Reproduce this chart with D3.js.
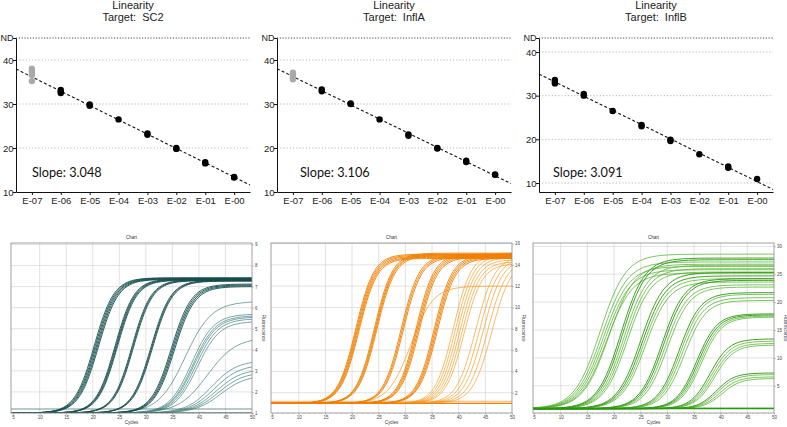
<!DOCTYPE html>
<html>
<head>
<meta charset="utf-8">
<script src="https://cdn.jsdelivr.net/npm/d3@7"></script>
<style>
body{margin:0;background:#fff;}
svg{display:block;font-family:"Liberation Sans",Arial,sans-serif;}
</style>
</head>
<body>
<svg id="chart" width="787" height="427"></svg>
<script>
// ---------- linearity plots (top row) ----------
var dilutions = ["E-07","E-06","E-05","E-04","E-03","E-02","E-01","E-00"];
var targets = ["SC2","InflA","InflB"];
var slopes = ["3.048","3.106","3.091"];
var yTicks = [10,20,30,40];

// Ct replicates per dilution
var ctSC2   = [[38.0,37.4,36.6,35.2],[33.2,32.8,32.5],[29.9,29.6],[26.5],[23.3,23.0],[20.0,19.8],[16.8,16.5],[13.4,13.3]];
var ctInflA = [[37.1,36.7,36.2,35.6],[33.3,32.9],[30.1,30.0],[26.5],[23.1,22.8],[20.0,19.9],[17.1,16.8],[14.0,13.9]];
var ctInflB = [[33.6,33.2,32.8],[30.4,30.0],[26.5],[23.3,23.0],[19.9,19.6],[16.6],[13.8,13.5],[10.9]];
var ctData = [ctSC2, ctInflA, ctInflB];
// dilutions left out of the fit (grey)
var excluded = [[0],[0],[]];
// axis range: bottom value and the "ND" value at the top
var yBottom = [10,10,7.94];
var yND = [45,45,43.2];

// ---------- amplification plots (bottom row) ----------
var tealCt      = [20.3,20.5,20.7,20.9,21.1, 24.2,24.35,24.5,24.65, 27.4,27.55,27.7, 31.0,31.15,31.3, 34.8,35.0,35.2,35.4, 37.4,38.6,38.9,39.1,39.4,39.7,41.6, 42.4,42.9,43.3,43.7,44.1];
var tealPlateau = [7.42,7.4,7.38,7.36,7.34, 7.36,7.34,7.32,7.3, 7.32,7.3,7.28, 7.3,7.28,7.26, 7.12,7.08,7.04,7.0, 6.3,5.7,5.62,5.56,5.48,5.35,4.6, 3.5,3.3,3.1,2.95,2.8];
var tealSteep   = [1.85,1.85,1.85,1.85,1.85, 1.8,1.8,1.8,1.8, 1.8,1.8,1.8, 1.85,1.85,1.85, 1.9,1.9,1.9,1.9, 2.5,2.1,2.1,2.1,2.1,2.1,2.7, 2.4,2.4,2.4,2.4,2.4];
var tealFaint   = [0,0,0,0,0, 0,0,0,0, 0,0,0, 0,0,0, 0,0,0,0, 1,1,1,1,1,1,1, 1,1,1,1,1];

var orangeCt      = [20.7,20.85,21.0,21.15,21.3, 24.2,24.35,24.5,24.65, 29.2,29.4,29.6, 31.0, 32.0,32.2,32.4,32.6, 35.4,35.6,35.8,36.0, 39.0,39.4,39.8,40.2,40.6,41.0, 43.2,43.9,44.6,45.4,46.2];
var orangePlateau = [15.0,14.9,14.8,14.7,14.6, 15.1,15.0,14.95,14.85, 14.9,14.8,14.7, 12.0, 15.0,14.9,14.8,14.7, 14.9,14.8,14.7,14.6, 15.1,14.9,14.7,14.5,14.3,14.1, 14.8,14.7,14.6,14.5,14.4];
var orangeSteep   = [1.7,1.7,1.7,1.7,1.7, 1.7,1.7,1.7,1.7, 1.7,1.7,1.7, 2.1, 1.7,1.7,1.7,1.7, 1.7,1.7,1.7,1.7, 1.7,1.7,1.7,1.7,1.7,1.7, 1.8,1.8,1.8,1.8,1.8];
var orangeFaint   = [0,0,0,0,0, 0,0,0,0, 0,0,0, 1, 0,0,0,0, 0,0,0,0, 1,1,1,1,1,1, 1,1,1,1,1];

var greenCt      = [17.4,17.7,18.0,18.3,18.6,19.0, 21.3,21.6,21.9,22.2,22.5, 25.0,25.3,25.6,25.9, 29.0,29.3,29.6,30.0, 32.2,32.5,32.8,33.2, 35.5,35.8,36.1,36.4, 38.0,38.3,38.6,38.9, 39.2,39.5,39.9,40.3];
var greenPlateau = [28.6,27.2,26.4,25.8,25.2,26.8, 27.9,27.6,26.6,26.0,25.4, 25.3,24.7,24.2,23.6, 24.2,23.9,23.1,22.7, 21.7,21.4,20.8,20.3, 17.9,17.7,17.5,17.3, 13.4,13.0,12.6,12.3, 7.3,7.0,6.6,6.3];
var greenSteep   = [2.4,2.4,2.4,2.4,2.4,2.4, 2.2,2.2,2.2,2.2,2.2, 2.2,2.2,2.2,2.2, 2.1,2.1,2.1,2.1, 2.0,2.0,2.0,2.0, 1.9,1.9,1.9,1.9, 1.8,1.8,1.8,1.8, 1.7,1.7,1.7,1.7];
var greenFaint   = [1,1,1,1,1,1, 0,0,1,1,1, 0,0,1,1, 0,0,1,1, 0,1,1,1, 0,0,1,1, 0,1,1,1, 0,1,1,1];

var ampCt = [tealCt, orangeCt, greenCt];
var ampPlateau = [tealPlateau, orangePlateau, greenPlateau];
var ampSteep = [tealSteep, orangeSteep, greenSteep];
var ampFaint = [tealFaint, orangeFaint, greenFaint];
var baselines = [1.0, 1.0, 0.9];
var thresholds = [1.19, 1.2, 1.05];
var ampYDomain = [[1,9.07],[0.1,16.05],[0.12,30.6]];
var ampYTicks = [d3.range(1,10), d3.range(2,17,2), d3.range(5,31,5)];
var cycleStart = [4.6, 4.8, 4.8];
var cycleTicks = [5,10,15,20,25,30,35,40,45,50];
var cycles = d3.range(1, 51);

var colors = [["#154d4c","#4d8a86"],["#f07f00","#f5a433"],["#2c9610","#52b22c"]];

var svg = d3.select("#chart");

// ---------- top row ----------
var topLeft = [16, 277, 539];
var topW = 234;
var slopeDx = [16, 23, 14];

targets.forEach(function(t, i){
    var ox = topLeft[i];
    var x = d3.scaleLinear().domain([-0.55, 7.55]).range([ox, ox + topW]);
    var y = d3.scaleLinear().domain([yBottom[i], yND[i]]).range([192, 38]);
    var g = svg.append("g");

    //titles
    g.append("text").attr("x", ox + 117).attr("y", 9).attr("text-anchor","middle")
        .attr("font-size", 11).attr("fill","#222").text("Linearity");
    g.append("text").attr("x", ox + 117).attr("y", 21).attr("text-anchor","middle")
        .attr("font-size", 11).attr("fill","#222").style("white-space","pre")
        .text("Target:  " + t);

    //dotted grid
    g.selectAll(".grid").data(yTicks.filter(v => v > yBottom[i] + 0.5)).enter()
        .append("line")
        .attr("x1", ox).attr("x2", ox + topW)
        .attr("y1", d => y(d)).attr("y2", d => y(d))
        .attr("stroke", "#a8a8a8").attr("stroke-width", 0.8).attr("stroke-dasharray", "1.2,2");
    g.append("line")
        .attr("x1", ox).attr("x2", ox + topW)
        .attr("y1", y(yND[i])).attr("y2", y(yND[i]))
        .attr("stroke", "#333").attr("stroke-width", 0.9).attr("stroke-dasharray", "1.2,1.6");

    //axes
    var yAxis = d3.axisLeft(y).tickValues(yTicks.concat([yND[i]]))
        .tickFormat(v => v === yND[i] ? "ND" : v).tickSize(3).tickSizeOuter(0);
    var ya = g.append("g").attr("transform", "translate(" + ox + ",0)").call(yAxis);
    var xAxis = d3.axisBottom(x).tickValues(d3.range(dilutions.length))
        .tickFormat(k => dilutions[k]).tickSize(3).tickSizeOuter(0);
    var xa = g.append("g").attr("transform", "translate(0,192)").call(xAxis);
    [ya, xa].forEach(function(a){
        a.selectAll("path,line").attr("stroke", "#111").attr("stroke-width", 1);
        a.selectAll("text").attr("font-size", 9.5).attr("fill", "#222")
            .attr("font-family", "'Liberation Sans',Arial,sans-serif");
    });
    ya.selectAll("text").attr("x", -2.5);
    ya.selectAll("text").filter(v => v === yND[i]).attr("font-size", 9);
    xa.selectAll("text").attr("y", 5);

    //points
    var pts = [];
    ctData[i].forEach(function(reps, di){
        reps.forEach(function(v){
            pts.push({di: di, v: v, excl: excluded[i].indexOf(di) >= 0});
        });
    });

    //least squares fit on included points
    var fit = pts.filter(p => !p.excl);
    var mx = d3.mean(fit, p => p.di), my = d3.mean(fit, p => p.v);
    var b = d3.sum(fit, p => (p.di - mx) * (p.v - my)) / d3.sum(fit, p => (p.di - mx) * (p.di - mx));
    var a0 = my - b * mx;
    var xd = x.domain();
    g.append("line")
        .attr("x1", x(xd[0])).attr("y1", y(a0 + b * xd[0]))
        .attr("x2", x(xd[1])).attr("y2", y(a0 + b * xd[1]))
        .attr("stroke", "#111").attr("stroke-width", 1.1).attr("stroke-dasharray", "3,2.2");

    g.selectAll(".pt").data(pts).enter().append("circle")
        .attr("cx", p => x(p.di)).attr("cy", p => y(p.v)).attr("r", 3.2)
        .attr("fill", p => p.excl ? "#a9a9a9" : "#000");

    g.append("text").attr("x", ox + slopeDx[i]).attr("y", 176.5)
        .attr("font-family", "Lato,'Open Sans',sans-serif").attr("font-size", 12.7)
        .attr("fill", "#111").text("Slope: " + slopes[i]);
});

// ---------- bottom row ----------
var botLeft = [11, 271, 533];
var botW = 241, botTop = 243, botBottom = 413;

ampCt.forEach(function(cts, i){
    var x0 = botLeft[i], x1 = x0 + botW;
    var x = d3.scaleLinear().domain([cycleStart[i], 50]).range([x0, x1]);
    var y = d3.scaleLinear().domain(ampYDomain[i]).range([botBottom, botTop]);
    var g = svg.append("g");

    g.append("clipPath").attr("id", "clip" + i).append("rect")
        .attr("x", x0).attr("y", botTop).attr("width", botW).attr("height", botBottom - botTop);

    //grid
    g.selectAll(".vg").data(cycleTicks.slice(1, -1)).enter().append("line")
        .attr("x1", d => x(d)).attr("x2", d => x(d)).attr("y1", botTop).attr("y2", botBottom)
        .attr("stroke", "#d6d6d6").attr("stroke-width", 0.7);
    g.selectAll(".hg").data(ampYTicks[i]).enter().append("line")
        .attr("x1", x0).attr("x2", x1).attr("y1", d => y(d)).attr("y2", d => y(d))
        .attr("stroke", "#d6d6d6").attr("stroke-width", 0.7);

    //curves
    var base = baselines[i];
    var curves = cts.map(function(ct, k){
        return {
            faint: ampFaint[i][k],
            pts: cycles.map(function(c){
                return [c, base + (ampPlateau[i][k] - base) / (1 + Math.exp(-(c - ct) / ampSteep[i][k]))];
            })
        };
    });
    var line = d3.line().x(d => x(d[0])).y(d => y(d[1])).curve(d3.curveMonotoneX);
    var cg = g.append("g").attr("clip-path", "url(#clip" + i + ")");
    cg.selectAll(".curve").data(curves.filter(c => c.faint).concat(curves.filter(c => !c.faint)))
        .enter().append("path")
        .attr("d", d => line(d.pts))
        .attr("fill", "none")
        .attr("stroke", d => d.faint ? colors[i][1] : colors[i][0])
        .attr("stroke-width", d => d.faint ? 0.75 : 0.9);

    //flat wells and threshold
    cg.append("line").attr("x1", x0).attr("x2", x1)
        .attr("y1", y(base)).attr("y2", y(base))
        .attr("stroke", colors[i][0]).attr("stroke-width", 1.2);
    cg.append("line").attr("x1", x0).attr("x2", x1)
        .attr("y1", y(thresholds[i])).attr("y2", y(thresholds[i]))
        .attr("stroke", colors[i][0]).attr("stroke-width", 0.6);

    //frame
    g.append("rect").attr("x", x0).attr("y", botTop).attr("width", botW).attr("height", botBottom - botTop)
        .attr("fill", "none").attr("stroke", "#8a8a8a").attr("stroke-width", 0.8);

    //tiny axes
    var ax = d3.axisBottom(x).tickValues(cycleTicks).tickSize(2).tickSizeOuter(0);
    var xg = g.append("g").attr("transform", "translate(0," + botBottom + ")").call(ax);
    g.append("g").selectAll("line").data(d3.range(5, 51)).enter().append("line")
        .attr("x1", d => x(d)).attr("x2", d => x(d)).attr("y1", botBottom).attr("y2", botBottom + 1)
        .attr("stroke", "#888").attr("stroke-width", 0.4);
    var ay = d3.axisRight(y).tickValues(ampYTicks[i]).tickSize(2).tickSizeOuter(0);
    var yg = g.append("g").attr("transform", "translate(" + x1 + ",0)").call(ay);
    [xg, yg].forEach(function(a){
        a.select(".domain").remove();
        a.selectAll("line").attr("stroke", "#888").attr("stroke-width", 0.5);
        a.selectAll("text").attr("font-size", 4.5).attr("fill", "#444")
            .attr("font-family", "'Liberation Sans',Arial,sans-serif");
    });
    xg.selectAll("text").attr("y", 3);
    yg.selectAll("text").attr("x", 3);

    g.append("text").attr("x", (x0 + x1) / 2).attr("y", botTop - 4).attr("text-anchor", "middle")
        .attr("font-size", 4.5).attr("fill", "#333").text("Chart");
    g.append("text").attr("x", (x0 + x1) / 2).attr("y", botBottom + 11).attr("text-anchor", "middle")
        .attr("font-size", 4.5).attr("fill", "#333").text("Cycles");
    g.append("text").attr("transform", "translate(" + (x1 + 10) + "," + ((botTop + botBottom) / 2) + ") rotate(90)")
        .attr("text-anchor", "middle").attr("font-size", 4.5).attr("fill", "#333").text("Fluorescence");
});
</script>
</body>
</html>
